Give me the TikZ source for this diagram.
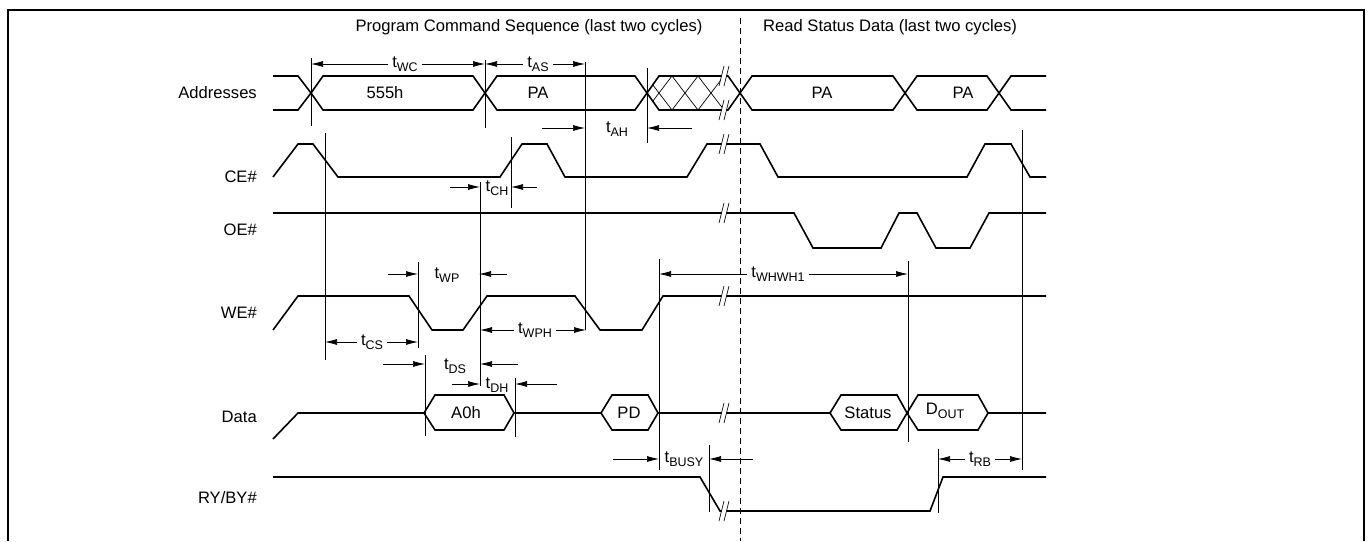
\documentclass[tikz,border=0pt]{standalone}
\usepackage{fontspec}
\setmainfont{Liberation Sans}
\usetikzlibrary{arrows.meta}
\newcommand{\tsub}[2]{#1\raisebox{-3.5pt}{\fontsize{12.5}{13}\selectfont #2}}
\tikzset{
  sig/.style={line width=1.6pt},
  guide/.style={line width=0.7pt},
  dim/.style={-{Latex[length=12pt,width=6pt]}, line width=0.7pt},
  lbl/.style={anchor=east, inner sep=0pt},
  tlbl/.style={inner sep=4pt},
}
\begin{document}
\begin{tikzpicture}[x=1pt,y=-1pt,font=\fontsize{16.6}{19}\selectfont]
    \useasboundingbox (0,0) rectangle (1370,541);
    \draw[line width=2.2pt] (8,541) -- (8,10) -- (1364,10) -- (1364,541);
    % headings and the split line
    \node (hprog) at (529,27) {Program Command Sequence (last two cycles)};
    \node (hread) at (890,27) {Read Status Data (last two cycles)};
    \draw[guide, dash pattern=on 6pt off 4pt] (740,18) -- (740,541);
    % signal names
    \node[lbl] (addr) at (257,93) {Addresses};
    \node[lbl] (ce) at (257,177) {CE\#};
    \node[lbl] (oe) at (257,230) {OE\#};
    \node[lbl] (we) at (257,313) {WE\#};
    \node[lbl] (data) at (257,417) {Data};
    \node[lbl] (ryby) at (257,498) {RY/BY\#};
    % Addresses
    \draw[sig] (273,76) -- (298,76) -- (311,93) -- (298,110) -- (273,110);
    \foreach \a/\b in {311/485, 485/647, 740/905, 905/999}
      \draw[sig] (\a,93) -- (\a+12,76) -- (\b-12,76) -- (\b,93) -- (\b-12,110) -- (\a+12,110) -- cycle;
    \draw[sig] (740,93) -- (728,76) -- (659,76) -- (647,93) -- (659,110) -- (728,110) -- cycle;
    \draw[sig] (1046,76) -- (1011,76) -- (999,93) -- (1011,110) -- (1046,110);
    \begin{scope}
      \clip (647,93) -- (659,76) -- (723,76) -- (723,110) -- (659,110) -- cycle;
      \foreach \x in {620,646,672,698}
        \draw[guide] (\x,76) -- (\x+26,110) (\x,110) -- (\x+26,76);
    \end{scope}
    \node (a555) at (385,93) {555h};
    \node (apa) at (538,93) {PA};
    \node (apb) at (822,93) {PA};
    \node (apc) at (963,93) {PA};
    % CE#, OE#, WE#
    \draw[sig] (273,177) -- (298,144) -- (313,144) -- (338,177) -- (500,177) -- (522,144) -- (547,144) -- (565,177) -- (687,177) -- (707,144) -- (760,144) -- (778,177) -- (967,177) -- (985,144) -- (1011,144) -- (1030,177) -- (1046,177);
    \draw[sig] (273,213) -- (794,213) -- (813,248) -- (881,248) -- (899,213) -- (917,213) -- (936,248) -- (970,248) -- (989,213) -- (1046,213);
    \draw[sig] (273,330) -- (298,296) -- (409,296) -- (432,330) -- (463,330) -- (487,296) -- (575,296) -- (600,330) -- (642,330) -- (663,296) -- (1046,296);
    % Data
    \draw[sig] (273,439) -- (298,413) -- (424,413) (514,413) -- (601,413) (658,413) -- (830,413) (988,413) -- (1046,413);
    \foreach \a/\b in {424/514, 601/658, 830/907, 907/988}
      \draw[sig] (\a,413) -- (\a+11,395) -- (\b-10,395) -- (\b,413) -- (\b-10,430) -- (\a+11,430) -- cycle;
    \node (da0) at (466,413) {A0h};
    \node (dpd) at (629,413) {PD};
    \node (dst) at (868,413) {Status};
    \node (dout) at (945,411) {\tsub{D}{OUT}};
    % RY/BY#
    \draw[sig] (273,477) -- (700,477) -- (720,511) -- (930,511) -- (943,477) -- (1046,477);
    % breaks
    \foreach \y in {76,110,144,213,296,413,511} {
      \fill[white] (719,\y+10) -- (724,\y-10) -- (729,\y-10) -- (724,\y+10) -- cycle;
      \draw[guide] (719,\y+10) -- (724,\y-10) (724,\y+10) -- (729,\y-10);
    }
    % guide lines
    \foreach \x/\ya/\yb in {311/58/126, 485/60/128, 585/62/330, 647/68/143, 325/133/360, 511/137/208, 480/182/386, 418/262/348, 425/355/436, 515/378/437, 659/259/470, 908/261/442, 709/445/512, 938/449/513, 1022/130/470}
      \draw[guide] (\x,\ya) -- (\x,\yb);
    % timings between two lines
    \node[tlbl] (twc) at (405,64) {\tsub{t}{WC}};
    \draw[dim] (twc) -- (311,64); \draw[dim] (twc) -- (485,64);
    \node[tlbl] (tas) at (538,64) {\tsub{t}{AS}};
    \draw[dim] (tas) -- (485,64); \draw[dim] (tas) -- (585,64);
    \node[tlbl] (tcs) at (372,342) {\tsub{t}{CS}};
    \draw[dim] (tcs) -- (325,342); \draw[dim] (tcs) -- (418,342);
    \node[tlbl] (twph) at (535,330) {\tsub{t}{WPH}};
    \draw[dim] (twph) -- (480,330); \draw[dim] (twph) -- (586,330);
    \node[tlbl] (twhwh) at (778,274) {\tsub{t}{WHWH1}};
    \draw[dim] (twhwh) -- (659,274); \draw[dim] (twhwh) -- (908,274);
    \node[tlbl] (trb) at (980,459) {\tsub{t}{RB}};
    \draw[dim] (trb) -- (938,459); \draw[dim] (trb) -- (1022,459);
    % timings pointed at from outside
    \node (tah) at (617,129) {\tsub{t}{AH}};
    \draw[dim] (542,128) -- (585,128); \draw[dim] (692,128) -- (647,128);
    \node (tch) at (497,188) {\tsub{t}{CH}};
    \draw[dim] (450,187) -- (480,187); \draw[dim] (537,187) -- (511,187);
    \node (twp) at (447,275) {\tsub{t}{WP}};
    \draw[dim] (388,274) -- (418,274); \draw[dim] (507,274) -- (479,274);
    \node (tds) at (455,366) {\tsub{t}{DS}};
    \draw[dim] (383,364) -- (425,364); \draw[dim] (518,364) -- (480,364);
    \node (tdh) at (497,385) {\tsub{t}{DH}};
    \draw[dim] (452,384) -- (480,384); \draw[dim] (557,384) -- (515,384);
    \node (tbusy) at (684,459) {\tsub{t}{BUSY}};
    \draw[dim] (613,459) -- (659,459); \draw[dim] (753,459) -- (709,459);
\end{tikzpicture}
\end{document}
